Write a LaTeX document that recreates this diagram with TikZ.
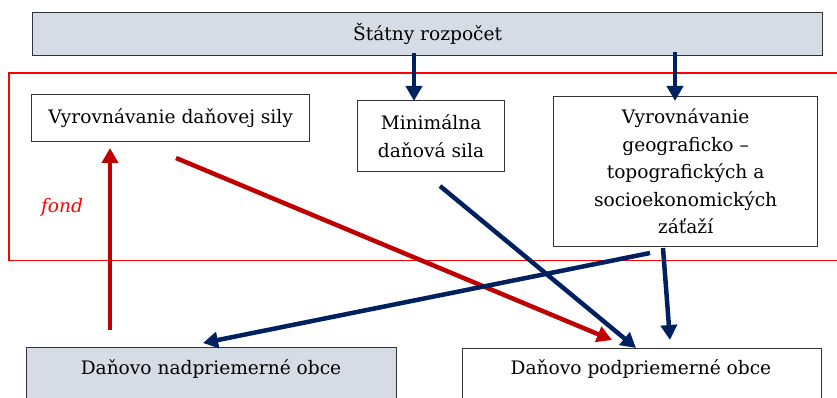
\documentclass[tikz,border=0pt]{standalone}
\usepackage{fontspec}
\setmainfont{DejaVu Serif}
\usetikzlibrary{arrows.meta}
\definecolor{navy}{HTML}{002060}
\definecolor{darkred}{HTML}{C00000}
\definecolor{boxfill}{HTML}{D6DCE5}
\tikzset{
  box/.style={draw=black!80, line width=1.2pt, anchor=north west, inner sep=0pt, align=center, font=\fontsize{18.6}{27.5}\selectfont},
  graybox/.style={box, fill=boxfill},
  lbl/.style={font=\fontsize{18.6}{22}\selectfont},
  bluearrow/.style={draw=navy, line width=4.5pt, -{Triangle[length=15pt,width=16pt]}},
  redarrow/.style={draw=darkred, line width=4.5pt, -{Triangle[length=15pt,width=16pt]}},
}
\begin{document}
\begin{tikzpicture}[x=1pt,y=-1pt]
\useasboundingbox (0,0) rectangle (837,398);
% fund frame (open on the right, runs past the picture edge)
\node[anchor=north west, minimum width=860pt, minimum height=187pt, inner sep=0pt] (fund) at (9,73) {};
\draw[red, line width=1.3pt] (fund.north east) -- (fund.north west) -- (fund.south west) -- (fund.south east);
\node[text=red, font={\fontsize{18.6}{22}\selectfont\itshape}] (fond) at (62,207) {fond};
% boxes
\node[graybox, minimum width=790pt, minimum height=43pt] (top) at (32,12) {Štátny rozpočet};
\node[box, minimum width=278pt, minimum height=47pt] (vds) at (31,94) {Vyrovnávanie daňovej sily};
\node[box, minimum width=147pt, minimum height=71pt] (min) at (357,100) {Minimálna\\daňová sila};
\node[box, minimum width=264pt, minimum height=150pt] (geo) at (553,96) {Vyrovnávanie\\geograficko –\\topografických a\\socioekonomických\\záťaží};
\node[graybox, minimum width=370pt, minimum height=60pt] (nad) at (26,347) {};
\node[lbl] (nadt) at (211,369) {Daňovo nadpriemerné obce};
\node[box, minimum width=359pt, minimum height=60pt] (pod) at (462,348) {};
\node[lbl] (podt) at (641,369) {Daňovo podpriemerné obce};
% connector points
\coordinate (t1) at (414,53);
\coordinate (m1) at (414,101);
\coordinate (t2) at (675,52);
\coordinate (g1) at (675,101);
\coordinate (r0) at (110,330);
\coordinate (r1) at (110,148);
\coordinate (s1) at (176,158);
\coordinate (p1) at (612,340);
\coordinate (s2) at (440,186);
\coordinate (p2) at (636,348);
\coordinate (s3) at (650,253);
\coordinate (n1) at (203,343);
\coordinate (s4) at (663,248);
\coordinate (p3) at (670,340);
% arrows
\draw[bluearrow] (t1) -- (m1);
\draw[bluearrow] (t2) -- (g1);
\draw[redarrow] (r0) -- (r1);
\draw[redarrow] (s1) -- (p1);
\draw[bluearrow] (s2) -- (p2);
\draw[bluearrow] (s3) -- (n1);
\draw[bluearrow] (s4) -- (p3);
\end{tikzpicture}
\end{document}
